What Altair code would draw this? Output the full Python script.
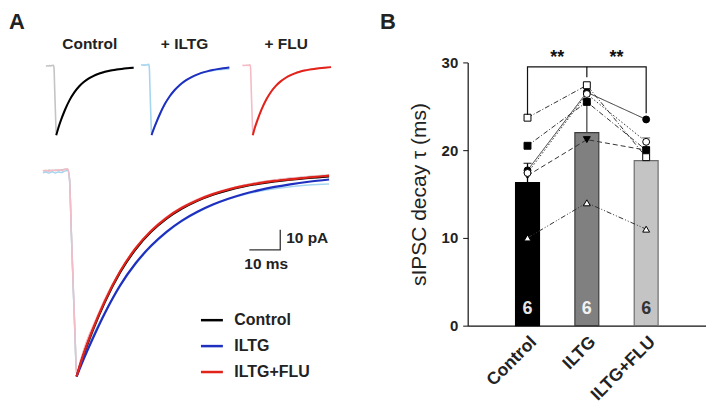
import altair as alt
import pandas as pd

FONT = "Liberation Sans"

# ---------------- Panel A data (time in ms, current in pA) ----------------
t_raw = [0, 1, 2, 3, 4, 5, 6, 7, 8, 8.6, 9.2, 9.8, 10.4, 10.9, 12, 14, 17, 20, 23, 26,
         30, 34, 38, 42, 46, 50, 55, 60, 65, 70, 75, 80, 85, 89, 92.6]
gray_raw = [0.8, 0.5, 1.0, 0.6, 1.1, 0.7, 1.2, 1.4, 1.6, -3, -30, -57, -82, -101,
            -95, -85.5, -74.5, -64, -55, -47.5, -38.5, -31, -25.2, -20.6, -16.9, -13.9,
            -10.9, -8.5, -6.6, -5.1, -4.0, -3.1, -2.3, -1.8, -1.5]
lblue_raw = [-0.3, 0.0, -0.5, 0.2, -0.4, 0.1, -0.2, 0.5, 0.8, -3.5, -30, -57, -82, -101,
             -96.5, -89, -79, -70, -62, -54.5, -46, -38.8, -32.8, -27.8, -23.6, -20.1,
             -16.4, -13.5, -11.3, -9.6, -8.3, -7.3, -6.6, -6.2, -6.0]
pink_raw = [0.6, 0.9, 0.4, 1.0, 0.7, 1.2, 0.8, 1.3, 1.5, -3.2, -30, -56, -81, -101,
            -95, -85, -74, -63.5, -54.5, -47, -38, -30.5, -24.8, -20.2, -16.5, -13.5,
            -10.6, -8.3, -6.5, -5.1, -4.0, -3.1, -2.4, -2.0, -1.7]

t_fit = [10.9, 13, 16, 20, 25, 30, 35, 40, 45, 50, 55, 60, 65, 70, 75, 80, 86, 92.6]
ctrl_fit = [-102, -92, -79.5, -65, -50, -38.5, -29.8, -23.2, -18.2, -14.3, -11.3, -9.0,
            -7.2, -5.8, -4.7, -3.8, -2.9, -2.1]
iltg_fit = [-102, -94, -83.5, -70.5, -56.5, -45.5, -36.8, -29.8, -24.2, -19.8, -16.2,
            -13.3, -10.9, -9.0, -7.4, -6.1, -4.8, -3.7]
flu_fit = [-102, -91.5, -79, -64.5, -49.5, -38, -29.4, -22.8, -17.8, -14, -11, -8.7,
           -6.9, -5.5, -4.4, -3.6, -2.7, -1.8]

conditions = ["Control", "ILTG", "ILTG+FLU"]
panel_titles = ["Control", "+ ILTG", "+ FLU"]
fit_colors = ["#000000", "#1f2fbf", "#e2231a"]
raw_colors = ["#c4c4c4", "#a6d6ef", "#f4bcc6"]

scale_bar_ms = 10
scale_bar_pA = 10

# ---------------- Panel B data ----------------
cats = ["Control", "ILTG", "ILTG+FLU"]
means = [16.3, 22.0, 18.8]
sems = [2.2, 3.3, 2.6]
n_cells = [6, 6, 6]
bar_fill = ["#000000", "#808080", "#c4c4c4"]
bar_stroke = ["#000000", "#3c3c3c", "#6e6e6e"]
err_color = ["#000000", "#4a4a4a", "#5a5a5a"]
n_color = ["#e6e6e6", "#f2f2f2", "#333333"]

cells = ["c5", "c6", "c2", "c3", "c4", "c1"]
cell_ctrl = [17.1, 10.0, 20.5, 17.7, 17.4, 23.7]
cell_iltg = [21.2, 14.0, 25.5, 26.6, 26.4, 27.4]
cell_flu = [20.0, 11.0, 20.0, 23.5, 20.95, 19.2]
cell_shape = ["triangle-down", "triangle-up", "square", "circle", "circle", "square"]
cell_fill = ["black", "white", "black", "black", "white", "white"]
cell_dash = [[5, 3], [5, 2, 1, 2, 1, 2], [5, 2, 1, 2], [1, 0], [1.5, 2], [5, 2, 1, 2]]

bracket_x = ["Control", "Control", "ILTG+FLU", "ILTG+FLU"]
bracket_y = [24.0, 29.5, 29.5, 24.2]
bracket_mid_x = ["ILTG", "ILTG"]
bracket_mid_y = [29.5, 28.3]
star_x = ["Control", "ILTG"]
star_y = [30.5, 30.5]

# ---------------- layout constants (pixels in panel views) ----------------
A_W, A_H = 461, 390
B_W, B_H = 239, 318
T_END = 92.6
SMALL = [  # x range, y range for each small trace
    ([38, 126], [127, 58]),
    ([133.5, 222], [127, 56.5]),
    ([235, 324], [127, 57.5]),
]
BIG_X, BIG_Y = [35, 322], [369, 164]
SB_T, SB_I = 76.8, -38.8


def xs(r):
    return alt.Scale(domain=[0, T_END], range=r, nice=False, zero=False)


def ys(r):
    return alt.Scale(domain=[-102, 0], range=r, nice=False, zero=False)


def trace(df, color, width, xr, yr):
    return alt.Chart(df).mark_line(strokeWidth=width, color=color, interpolate="monotone").encode(
        x=alt.X("t:Q", scale=xs(xr), axis=None),
        y=alt.Y("I:Q", scale=ys(yr), axis=None),
        order="t:Q",
    )


raws = [gray_raw, lblue_raw, pink_raw]
fits = [ctrl_fit, iltg_fit, flu_fit]

layers = []
# small traces
for k in range(3):
    xr, yr = SMALL[k]
    layers.append(trace(pd.DataFrame({"t": t_raw, "I": raws[k]}), raw_colors[k], 1.6, xr, yr))
    layers.append(trace(pd.DataFrame({"t": t_fit, "I": fits[k]}), fit_colors[k], 2.0, xr, yr))

# big traces: raw underneath
for k in range(3):
    layers.append(trace(pd.DataFrame({"t": t_raw, "I": raws[k]}), raw_colors[k], 1.5, BIG_X, BIG_Y))

fit_df = pd.concat([
    pd.DataFrame({"t": t_fit, "I": fits[k], "cond": conditions[k]}) for k in range(3)
])
layers.append(
    alt.Chart(fit_df).mark_line(strokeWidth=2.2, interpolate="monotone").encode(
        x=alt.X("t:Q", scale=xs(BIG_X), axis=None),
        y=alt.Y("I:Q", scale=ys(BIG_Y), axis=None),
        color=alt.Color(
            "cond:N",
            scale=alt.Scale(domain=conditions, range=fit_colors),
            legend=alt.Legend(
                title=None, orient="none", legendX=192, legendY=300,
                symbolType="stroke", symbolSize=484, symbolStrokeWidth=2.5,
                labelFont=FONT, labelFontSize=16, labelFontWeight="bold",
                labelColor="#222222", rowPadding=5, padding=0, labelOffset=10,
            ),
        ),
        order="t:Q",
    )
)

# scale bar
sb_df = pd.DataFrame({
    "t": [SB_T - scale_bar_ms, SB_T, SB_T],
    "I": [SB_I, SB_I, SB_I + scale_bar_pA],
    "o": [0, 1, 2],
})
layers.append(
    alt.Chart(sb_df).mark_line(strokeWidth=1.3, color="#333333").encode(
        x=alt.X("t:Q", scale=xs(BIG_X), axis=None),
        y=alt.Y("I:Q", scale=ys(BIG_Y), axis=None),
        order="o:Q",
    )
)


def label(text, x, y, size, align="center", baseline="middle", weight="bold"):
    return alt.Chart(pd.DataFrame({"a": [0]})).mark_text(
        text=text, font=FONT, fontSize=size, fontWeight=weight, align=align,
        baseline=baseline, color="#222222",
    ).encode(x=alt.value(x), y=alt.value(y))


layers.append(label("A", 1, 3, 22, align="left", baseline="top"))
layers.append(label("B", 373, 3, 22, align="left", baseline="top"))
for txt, px in zip(panel_titles, [82, 177, 279]):
    layers.append(label(txt, px, 36, 15.5))
layers.append(label(f"{scale_bar_pA} pA", 279, 230, 15.5, align="left"))
layers.append(label(f"{scale_bar_ms} ms", 259, 256, 15.5))

panel_a = alt.layer(*layers).resolve_scale(x="independent", y="independent", color="independent").properties(
    width=A_W, height=A_H
)

# ---------------- Panel B ----------------
xscale = alt.Scale(domain=cats, paddingInner=0.597, paddingOuter=0.807)
yscale = alt.Scale(domain=[0, 30], range=[B_H, 54], nice=False, zero=False)

bar_df = pd.DataFrame({
    "cat": cats, "mean": means, "top": [m + s for m, s in zip(means, sems)],
    "n": [str(v) for v in n_cells], "fill": bar_fill, "stroke": bar_stroke,
    "ecol": err_color, "ncol": n_color,
})

X = lambda: alt.X("cat:N", scale=xscale, bandPosition=0.5, sort=cats,
                  axis=alt.Axis(title=None, labelAngle=-45, labelFont=FONT, labelFontSize=17.5,
                                labelFontWeight="bold", labelColor="#222222", ticks=False,
                                labelPadding=7, domainColor="#111111", domainWidth=1.2))
Y = lambda f: alt.Y(f, scale=yscale,
                    axis=alt.Axis(values=[0, 10, 20, 30], tickSize=5, tickColor="#111111",
                                  labelPadding=5, labelFont=FONT, labelFontSize=15,
                                  labelFontWeight="bold", labelColor="#222222",
                                  title="sIPSC decay τ (ms)", titleFont=FONT, titleFontSize=21,
                                  titleFontWeight="normal", titleColor="#222222", titlePadding=12,
                                  domainColor="#111111", domainWidth=1.2, grid=False))

bars = alt.Chart(bar_df).mark_bar(strokeWidth=1.2).encode(
    x=X(), y=Y("mean:Q"),
    fill=alt.Fill("fill:N", scale=None), stroke=alt.Stroke("stroke:N", scale=None),
)
err = alt.Chart(bar_df).mark_rule(strokeWidth=1.3).encode(
    x=X(), y=Y("mean:Q"), y2="top:Q", color=alt.Color("ecol:N", scale=None)
)
cap = alt.Chart(bar_df).mark_tick(orient="horizontal", size=8, thickness=1.3).encode(
    x=X(), y=Y("top:Q"), color=alt.Color("ecol:N", scale=None)
)
ntext = alt.Chart(bar_df).mark_text(font=FONT, fontSize=18, fontWeight="bold", baseline="middle").encode(
    x=X(), y=Y("ny:Q"), text="n:N", color=alt.Color("ncol:N", scale=None)
).transform_calculate(ny="1.9")

rows = []
for i, c in enumerate(cells):
    for j, (cat, vals) in enumerate(zip(cats, [cell_ctrl, cell_iltg, cell_flu])):
        rows.append({"cell": c, "cat": cat, "v": vals[i], "j": j, "k": i})
cell_df = pd.DataFrame(rows)

cell_lines = alt.Chart(cell_df).mark_line(strokeWidth=1.0, color="#333333").encode(
    x=X(), y=Y("v:Q"), detail="cell:N", order="j:Q",
    strokeDash=alt.StrokeDash("cell:N", scale=alt.Scale(domain=cells, range=cell_dash), legend=None),
)
cell_pts = alt.Chart(cell_df).mark_point(filled=True, size=48, stroke="black", strokeWidth=1.0, opacity=1).encode(
    x=X(), y=Y("v:Q"),
    shape=alt.Shape("cell:N", scale=alt.Scale(domain=cells, range=cell_shape), legend=None),
    fill=alt.Fill("cell:N", scale=alt.Scale(domain=cells, range=cell_fill), legend=None),
    order="k:Q",
)

br_df = pd.concat([
    pd.DataFrame({"cat": bracket_x, "v": bracket_y, "seg": "a", "o": range(len(bracket_x))}),
    pd.DataFrame({"cat": bracket_mid_x, "v": bracket_mid_y, "seg": "b", "o": range(len(bracket_mid_x))}),
])
bracket = alt.Chart(br_df).mark_line(strokeWidth=1.2, color="#111111").encode(
    x=X(), y=Y("v:Q"), detail="seg:N", order="o:Q"
)
stars = alt.Chart(pd.DataFrame({"cat": star_x, "v": star_y})).mark_text(
    text="**", font=FONT, fontSize=18, fontWeight="bold", dx=29.8, baseline="middle", color="#111111"
).encode(x=X(), y=Y("v:Q"))

panel_b = alt.layer(bars, err, cap, ntext, cell_lines, cell_pts, bracket, stars).properties(
    width=B_W, height=B_H
)

chart = alt.hconcat(panel_a, panel_b, spacing=0, bounds="flush").properties(padding=0).configure_view(
    stroke=None
)

chart.save("out.html", embed_options={"renderer": "svg", "actions": False})
